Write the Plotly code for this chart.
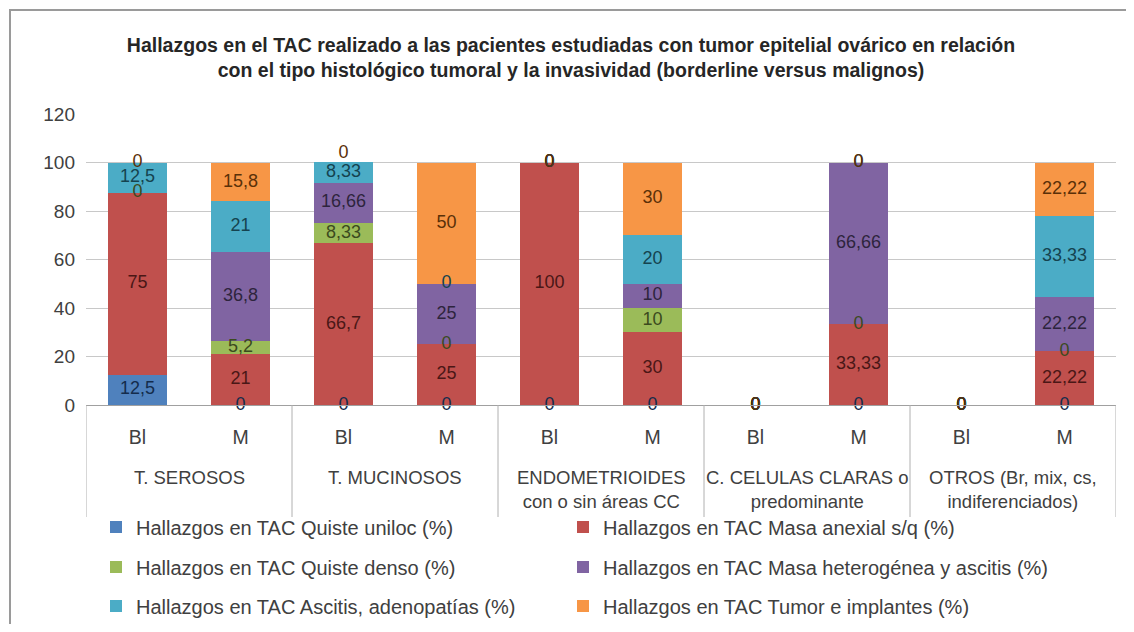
import plotly.graph_objects as go

# ---------------- data ----------------
groups = ["T. SEROSOS", "T. MUCINOSOS", "ENDOMETRIOIDES<br>con o sin áreas CC",
          "C. CELULAS CLARAS o<br>predominante", "OTROS (Br, mix, cs,<br>indiferenciados)"]
subs = ["Bl", "M"]

series_names = [
    "Hallazgos en TAC Quiste uniloc (%)",
    "Hallazgos en TAC Masa anexial s/q (%)",
    "Hallazgos en TAC Quiste denso (%)",
    "Hallazgos en TAC Masa heterogénea y ascitis (%)",
    "Hallazgos en TAC Ascitis, adenopatías (%)",
    "Hallazgos en TAC Tumor e implantes (%)",
]
# order of bars: SER Bl, SER M, MUC Bl, MUC M, END Bl, END M, CC Bl, CC M, OTR Bl, OTR M
quiste_uniloc = [12.5, 0, 0, 0, 0, 0, 0, 0, 0, 0]
masa_anexial = [75, 21, 66.7, 25, 100, 30, 0, 33.33, 0, 22.22]
quiste_denso = [0, 5.2, 8.33, 0, 0, 10, 0, 0, 0, 0]
masa_heterog = [None, 36.8, 16.66, 25, 0, 10, 0, 66.66, 0, 22.22]
ascitis = [12.5, 21, 8.33, 0, 0, 20, 0, 0, 0, 33.33]
tumor = [0, 15.8, 0, 50, 0, 30, 0, 0, 0, 22.22]

y_ticks = [0, 20, 40, 60, 80, 100, 120]

# ---------------- styling ----------------
colors = ["#4F81BD", "#C0504D", "#9BBB59", "#8064A2", "#4BACC6", "#F79646"]
label_colors = ["#142C4C", "#4A1716", "#3B4A1E", "#2E243D", "#15434F", "#5A3008"]
FONT = "Liberation Sans, Arial, sans-serif"

all_series = [quiste_uniloc, masa_anexial, quiste_denso, masa_heterog, ascitis, tumor]
xcats = [f"{g}|{s}" for g in groups for s in subs]
ticktext = [s for g in groups for s in subs]

# page has an 8px body margin: figure px = screen px - 8
OFF = 8
W, HT = 1134 - 2 * OFF, 632 - 2 * OFF
# plot area geometry in screen px
L, R, T, B = 86, 1116, 114, 405
H = B - T

def py(y_px):
    return (B - y_px) / H

def px(x_px):
    return (x_px - L) / (R - L)

fig = go.Figure()
legend_ids = ["legend", "legend2", "legend3", "legend4", "legend5", "legend6"]
for k, vals in enumerate(all_series):
    fig.add_trace(go.Bar(
        x=xcats, y=vals, name=series_names[k],
        marker=dict(color=colors[k], line=dict(width=0)),
        legend=legend_ids[k],
    ))

# data labels centred in each segment (the mucinous-borderline top label sits above the bar)
base = [0.0] * len(xcats)
for k, vals in enumerate(all_series):
    lx, ly, lt, lp = [], [], [], []
    for i, v in enumerate(vals):
        if v is None:
            continue
        lx.append(xcats[i])
        ly.append(base[i] + v / 2)
        lt.append(f"{v:g}".replace(".", ","))
        lp.append("top center" if (k == 5 and i == 2) else "middle center")
        base[i] += v
    fig.add_trace(go.Scatter(
        x=lx, y=ly, text=lt, mode="text", textposition=lp,
        showlegend=False, hoverinfo="skip",
        textfont=dict(family=FONT, size=18, color=label_colors[k]),
        cliponaxis=False,
    ))

# group labels
for gi, g in enumerate(groups):
    fig.add_annotation(
        x=2 * gi + 0.5, xref="x", y=py(465), yref="paper", yanchor="top",
        text=g, showarrow=False, align="center",
        font=dict(family=FONT, size=18.5, color="#404040"),
    )

# dividers
for xv in [-0.5, 1.5, 3.5, 5.5, 7.5, 9.5]:
    fig.add_shape(type="line", x0=xv, x1=xv, xref="x", y0=0, y1=py(517), yref="paper",
                  line=dict(color="#b0b0b0", width=1))

# outer chart border
fig.add_shape(type="rect", xref="paper", yref="paper",
              x0=px(10), x1=px(1160), y0=py(660), y1=py(10),
              line=dict(color="#9a9a9a", width=2), fillcolor="rgba(0,0,0,0)", layer="below")

legend_common = dict(orientation="h", xanchor="left", yanchor="middle",
                     font=dict(family=FONT, size=20, color="#404040"),
                     bgcolor="rgba(0,0,0,0)")
col_x = [px(96), px(563)]
row_y = [py(527), py(567), py(606)]
legend_layout = {}
for k, lid in enumerate(legend_ids):
    legend_layout[lid] = dict(legend_common, x=col_x[k % 2], y=row_y[k // 2])

fig.update_layout(
    width=W, height=HT,
    margin=dict(l=L - OFF, r=W - (R - OFF), t=T - OFF, b=HT - (B - OFF), autoexpand=False),
    paper_bgcolor="white", plot_bgcolor="white",
    barmode="stack", bargap=0.42,
    title=dict(
        text="<b>Hallazgos en el TAC realizado a las pacientes estudiadas con tumor epitelial ovárico en relación<br>"
             "con el tipo histológico tumoral y la invasividad (borderline versus malignos)</b>",
        x=(571 - OFF) / W, xref="container", xanchor="center",
        y=1 - (52 - OFF) / HT, yref="container", yanchor="top",
        font=dict(family=FONT, size=19.5, color="#262626"),
    ),
    xaxis=dict(
        type="category", categoryorder="array", categoryarray=xcats,
        tickmode="array", tickvals=xcats, ticktext=ticktext,
        showgrid=False, showline=True, linecolor="#a0a0a0", linewidth=1,
        ticks="", ticklabelstandoff=15,
        tickfont=dict(family=FONT, size=19.5, color="#404040"),
        range=[-0.5, 9.5],
    ),
    yaxis=dict(
        range=[0, 120], tickvals=y_ticks,
        showgrid=True, gridcolor="#c8c8c8", gridwidth=1,
        zeroline=False, showline=False, ticks="", ticklabelstandoff=10,
        tickfont=dict(family=FONT, size=19, color="#404040"),
    ),
    showlegend=True,
    **legend_layout,
)

fig.write_html("out.html")
